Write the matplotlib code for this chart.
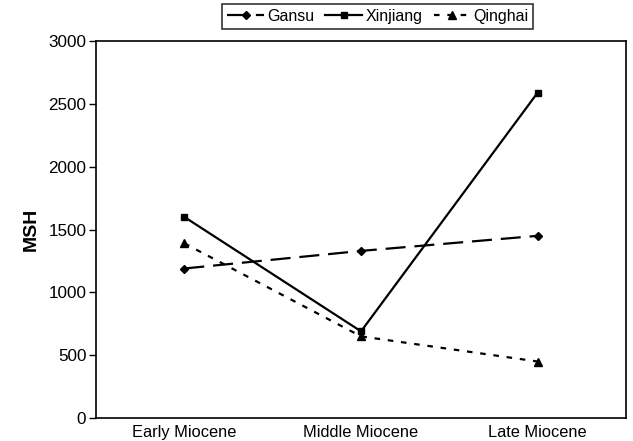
import numpy as np
import matplotlib
matplotlib.use("Agg")
import matplotlib.pyplot as plt

plt.rcParams['font.family'] = ['Liberation Sans', 'DejaVu Sans']

periods = ['Early Miocene', 'Middle Miocene', 'Late Miocene']
gansu = [1190, 1330, 1450]
xinjiang = [1600, 690, 2590]
qinghai = [1390, 650, 450]

x = np.arange(len(periods))

fig = plt.figure(figsize=(6.33, 4.41), dpi=100)
ax = fig.add_axes([0.1517, 0.052, 0.8373, 0.855])

ax.plot(x, gansu, color='black', lw=1.6, dashes=(9, 4), marker='D', ms=4.5, label='Gansu')
ax.plot(x, xinjiang, color='black', lw=1.6, linestyle='-', marker='s', ms=5, label='Xinjiang')
ax.plot(x, qinghai, color='black', lw=1.6, dashes=(2.5, 3.5), marker='^', ms=5.5, label='Qinghai')

ax.set_xlim(-0.5, 2.5)
ax.set_ylim(0, 3000)
ax.set_yticks(np.arange(0, 3001, 500))
ax.set_xticks(x)
ax.set_xticklabels(periods)
ax.tick_params(axis='x', length=0, labelsize=11.8, pad=5)
ax.tick_params(axis='y', length=5, width=1, labelsize=12.3, direction='out', pad=2)
ax.set_ylabel('MSH', fontsize=14, fontweight='bold', labelpad=6)
for s in ax.spines.values():
    s.set_linewidth(1.2)

leg = fig.legend(loc='upper center', bbox_to_anchor=(0.597, 1.0), ncol=3, frameon=True,
                 fancybox=False, edgecolor='black', fontsize=11.5, handlelength=2.3,
                 columnspacing=0.7, handletextpad=0.2, borderpad=0.3, borderaxespad=0.25)
leg.get_frame().set_linewidth(1.2)

fig.savefig('out.png', dpi=100)
